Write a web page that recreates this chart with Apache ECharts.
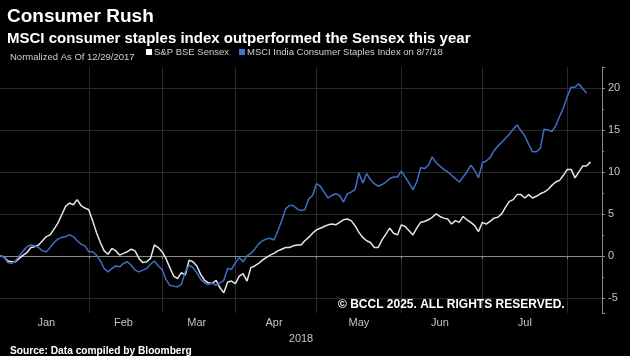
<!DOCTYPE html>
<html>
<head>
<meta charset="utf-8">
<script src="https://cdn.jsdelivr.net/npm/echarts@6/dist/echarts.min.js"></script>
<style>
  html, body { margin: 0; padding: 0; background: #000; }
  #chart { width: 630px; height: 356px; }
</style>
</head>
<body>
<div id="chart"></div>
<script>
// ---- Data (normalized % change since 12/29/2017, one value per trading day) ----
const firstDay = '2017-12-29';
const lastDay = '2018-08-14';
const marketHolidays = ['2018-01-26', '2018-02-13', '2018-03-02', '2018-03-29', '2018-03-30', '2018-05-01'];
const monthNames = ['Jan', 'Feb', 'Mar', 'Apr', 'May', 'Jun', 'Jul', 'Aug', 'Sep', 'Oct', 'Nov', 'Dec'];
const yearLabel = '2018';
const seriesNames = ['S&P BSE Sensex', 'MSCI India Consumer Staples Index on 8/7/18'];

const sensex = [
  0, -0.1, -0.6, -0.7, -0.7, -0.3, 0.1, 0.4, 1.0, 1.1,
  1.3, 1.8, 2.3, 2.5, 3.2, 3.9, 4.9, 5.9, 6.3, 6.1,
  6.7, 6.0, 5.7, 5.5, 4.2, 2.8, 1.6, 0.6, 0.2, 0.9,
  0.6, 0.1, 0.3, 0.5, 0.8, 0.6, -0.3, -0.8, -0.7, -0.3,
  1.3, 1.0, 0.5, -0.3, -1.4, -2.4, -2.7, -2.0, -2.3, -0.5,
  -0.7, -1.2, -2.2, -2.9, -3.2, -3.3, -2.9, -3.8, -4.4, -3.1,
  -3.0, -3.3, -2.4, -2.1, -3.0, -1.4, -1.2, -0.9, -0.5, -0.2,
  0.1, 0.3, 0.6, 0.8, 1.0, 1.0, 1.2, 1.3, 1.3, 1.8,
  2.2, 2.7, 3.1, 3.3, 3.5, 3.7, 3.8, 3.7, 4.0, 4.3,
  4.4, 4.2, 3.6, 2.8, 2.2, 1.8, 1.6, 1.0, 1.0, 1.9,
  2.6, 3.3, 2.7, 2.5, 3.7, 3.5, 3.0, 2.5, 3.3, 4.0,
  4.1, 4.3, 4.6, 5.0, 4.7, 4.5, 4.4, 3.8, 4.2, 4.0,
  4.7, 4.3, 4.0, 3.6, 2.9, 4.0, 3.8, 4.1, 4.5, 4.6,
  5.0, 5.8, 6.5, 6.7, 7.3, 7.3, 6.9, 7.3, 6.9, 7.1,
  7.4, 7.6, 7.9, 8.4, 8.8, 9.0, 9.6, 10.3, 10.3, 9.3,
  10.0, 10.7, 10.7, 11.2
];

const msciStaples = [
  0, -0.1, -0.8, -0.9, -0.6, 0.0, 0.6, 1.1, 1.3, 1.2,
  1.0, 0.6, 0.5, 1.0, 1.6, 2.0, 2.2, 2.3, 2.5, 2.3,
  1.8, 1.4, 1.2, 0.5, 0.5, 0.1, -0.6, -1.5, -1.9, -1.5,
  -1.2, -1.3, -0.9, -0.7, -1.1, -1.7, -1.9, -1.7, -1.5, -1.0,
  -0.6, -1.2, -1.6, -2.8, -3.5, -3.6, -3.7, -3.4, -1.9, -1.1,
  -1.4, -2.0, -2.8, -3.2, -3.4, -3.2, -3.5, -3.2, -2.9, -1.5,
  -1.6, -0.8, -0.2, -0.7, 0.0, 0.3, 0.8, 1.4, 1.8, 2.0,
  2.1, 1.9, 3.0, 4.2, 5.6, 6.0, 6.0, 5.6, 5.4, 5.5,
  6.8, 7.2, 8.6, 8.3, 7.6, 6.9, 7.2, 7.4, 7.2, 6.4,
  7.4, 7.6, 7.9, 9.9, 8.7, 9.8, 9.1, 8.6, 8.3, 8.5,
  8.8, 9.2, 9.4, 9.4, 10.1, 9.4, 8.7, 7.9, 8.8, 10.5,
  10.4, 10.8, 11.8, 11.1, 10.7, 10.3, 10.0, 9.6, 9.2, 8.8,
  9.4, 10.0, 10.8, 10.2, 9.3, 11.1, 11.3, 11.7, 12.5, 13.1,
  13.5, 14.0, 14.5, 15.1, 15.6, 14.9, 14.3, 13.3, 12.4, 12.4,
  12.8, 15.1, 15.0, 14.8, 15.5, 16.6, 17.6, 19.0, 20.1, 20.1,
  20.5, 19.9, 19.4
];

const yTickLabels = [-5, 0, 5, 10, 15, 20];

// ---- Trading-day category axis ----
function buildTradingDays(start, end, holidays) {
  const out = [];
  const d = new Date(start + 'T00:00:00Z');
  const e = new Date(end + 'T00:00:00Z');
  while (d <= e) {
    const wd = d.getUTCDay();
    const s = d.toISOString().slice(0, 10);
    if (wd !== 0 && wd !== 6 && holidays.indexOf(s) < 0) out.push(s);
    d.setUTCDate(d.getUTCDate() + 1);
  }
  return out;
}
const days = buildTradingDays(firstDay, lastDay, marketHolidays);

const monthStarts = [];
days.forEach((s, i) => {
  if (i > 0 && s.slice(5, 7) !== days[i - 1].slice(5, 7)) monthStarts.push(i);
});
const monthStartSet = new Set(monthStarts);
const monthLabelIdx = new Set();
for (let k = 0; k < monthStarts.length - 1; k++) {
  monthLabelIdx.add(Math.floor((monthStarts[k] + monthStarts[k + 1]) / 2));
}
const yearLabelIdx = Math.floor((days.length - 1) / 2);

const FONT = 'Liberation Sans, Arial, sans-serif';

const chart = echarts.init(document.getElementById('chart'), null, { renderer: 'canvas' });
chart.setOption({
  backgroundColor: '#000',
  animation: false,
  title: [
    { text: 'Consumer Rush', left: 2, top: 2,
      textStyle: { color: '#fff', fontSize: 19, fontWeight: 'bold', fontFamily: FONT } },
    { text: 'MSCI consumer staples index outperformed the Sensex this year', left: 2, top: 26,
      textStyle: { color: '#fff', fontSize: 15, fontWeight: 'bold', fontFamily: FONT } },
    { text: 'Normalized As Of 12/29/2017', left: 5, top: 47,
      textStyle: { color: '#cfcfcf', fontSize: 9.5, fontWeight: 'normal', fontFamily: FONT } },
    { text: 'Source: Data compiled by Bloomberg', left: 5, top: 341,
      textStyle: { color: '#fff', fontSize: 10.2, fontWeight: 'bold', fontFamily: FONT } },
    { text: '\u00A9 BCCL 2025. ALL RIGHTS RESERVED.', left: 333, top: 294,
      textStyle: { color: '#fff', fontSize: 12, fontWeight: 'bold', fontFamily: FONT } }
  ],
  legend: {
    left: 146, top: 47, icon: 'rect', itemWidth: 6, itemHeight: 6, itemGap: 10,
    padding: 0,
    textStyle: { color: '#cfcfcf', fontSize: 9.5, fontFamily: FONT, padding: [0, 0, 0, -3] },
    data: seriesNames
  },
  grid: { left: -2, right: 28, top: 67, bottom: 43, containLabel: false },
  xAxis: [
    {
      type: 'category', data: days, boundaryGap: false,
      axisLine: { show: true, lineStyle: { color: '#8c8c8c', width: 1 } },
      axisTick: { show: true, length: 3, interval: (i) => monthStartSet.has(i), lineStyle: { color: '#8c8c8c' } },
      splitLine: { show: true, interval: (i) => monthStartSet.has(i) && i > 1, lineStyle: { color: '#2a2a2a', width: 1 } },
      axisLabel: {
        interval: (i) => monthLabelIdx.has(i), margin: 4,
        color: '#c4c4c4', fontSize: 11, fontFamily: FONT,
        formatter: (v) => monthNames[parseInt(v.slice(5, 7), 10) - 1]
      }
    },
    {
      type: 'category', data: days, boundaryGap: false, position: 'bottom', offset: 16,
      axisLine: { show: false }, axisTick: { show: false }, splitLine: { show: false },
      axisLabel: {
        interval: (i) => i === yearLabelIdx, margin: 4,
        color: '#c4c4c4', fontSize: 11, fontFamily: FONT,
        formatter: () => yearLabel
      }
    }
  ],
  yAxis: {
    type: 'value', position: 'right', min: -6.8, max: 22.5, splitNumber: 5,
    axisLine: { show: true, lineStyle: { color: '#8c8c8c', width: 1 } },
    axisTick: { show: true, length: 3, lineStyle: { color: '#8c8c8c' } },
    minorTick: { show: true, splitNumber: 2, length: 2, lineStyle: { color: '#8c8c8c' } },
    splitLine: { show: true, lineStyle: { color: ['transparent', '#2a2a2a', '#2a2a2a', '#2a2a2a', '#2a2a2a', '#2a2a2a', '#2a2a2a', 'transparent'], width: 1 } },
    axisLabel: {
      margin: 6, color: '#c4c4c4', fontSize: 11, fontFamily: FONT,
      showMinLabel: false, showMaxLabel: false,
      formatter: (v) => (yTickLabels.indexOf(v) >= 0 ? String(v) : '')
    }
  },
  series: [
    { name: seriesNames[0], type: 'line', data: sensex, showSymbol: false, symbol: 'none',
      lineStyle: { color: '#e6e6e6', width: 1.5 }, itemStyle: { color: '#ffffff' } },
    { name: seriesNames[1], type: 'line', data: msciStaples, showSymbol: false, symbol: 'none',
      lineStyle: { color: '#3f6fc4', width: 1.5 }, itemStyle: { color: '#3f74d6' } }
  ]
});
</script>
</body>
</html>
